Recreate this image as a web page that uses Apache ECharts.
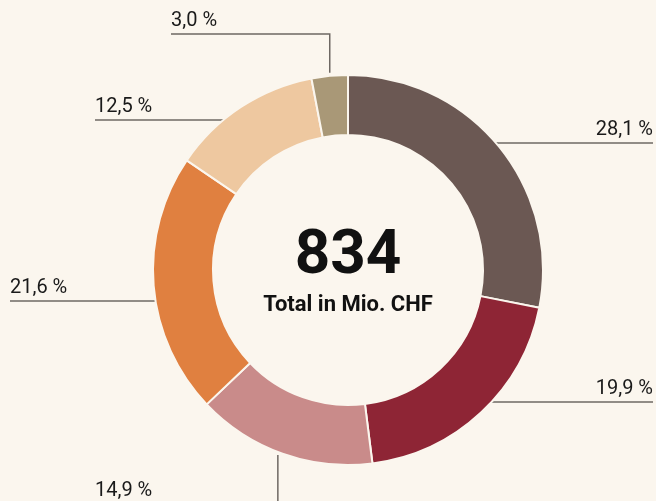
<!DOCTYPE html>
<html><head><meta charset="utf-8">
<script src="https://cdn.jsdelivr.net/npm/echarts@6/dist/echarts.min.js"></script>
<style>html,body{margin:0;padding:0;background:#fbf6ee}#c{width:656px;height:501px}</style>
</head><body><div id="c"></div>
<script>
// ---- data ----
const categories = ['A', 'B', 'C', 'D', 'E', 'F'];
const shares = [28.1, 19.9, 14.9, 21.6, 12.5, 3.0];
const labelTexts = ['28,1 %', '19,9 %', '14,9 %', '21,6 %', '12,5 %', '3,0 %'];
const totalValue = '834';
const totalCaption = 'Total in Mio. CHF';

// ---- styling / layout ----
const colors = ['#6b5853', '#8e2535', '#c98b8a', '#e08040', '#eec8a0', '#a99877'];
const BG = '#fbf6ee';
const CX = 348, CY = 270, R_OUT = 195, R_IN = 135;
// label placement: side and line y (for horizontal) / end x
const placement = [
  {side: 'right', lineY: 143, endX: 653},
  {side: 'right', lineY: 402, endX: 653},
  {side: 'down', lineY: 504, endX: 95, dx: -5},
  {side: 'left', lineY: 301, endX: 10},
  {side: 'left', lineY: 120, endX: 95},
  {side: 'up', lineY: 34, endX: 171, dx: 0}
];

const total = shares.reduce((a, b) => a + b, 0);
const midAngles = [];
{
  let acc = 0;
  shares.forEach(v => { midAngles.push((acc + v / 2) / total * 2 * Math.PI); acc += v; });
}
const R_EDGE = R_OUT - 1;

const chart = echarts.init(document.getElementById('c'), null, {renderer: 'canvas'});
chart.setOption({
  backgroundColor: BG,
  animation: false,
  graphic: [
    {type: 'text', x: CX, y: 257, style: {text: totalValue, fill: '#111', font: 'bold 62px Roboto', textAlign: 'center', textVerticalAlign: 'middle'}},
    {type: 'text', x: CX, y: 305, style: {text: totalCaption, fill: '#111', font: 'bold 22px Roboto', textAlign: 'center', textVerticalAlign: 'middle'}}
  ],
  series: [{
    type: 'pie',
    center: [CX, CY],
    radius: [R_IN, R_OUT],
    startAngle: 90,
    clockwise: true,
    avoidLabelOverlap: false,
    itemStyle: {borderColor: BG, borderWidth: 2},
    emphasis: {disabled: true},
    label: {
      show: true, position: 'outside',
      formatter: p => labelTexts[p.dataIndex],
      color: '#1a1a1a', fontFamily: 'Roboto', fontSize: 20
    },
    labelLine: {show: true, length: 10, length2: 10, lineStyle: {color: '#6e6863', width: 1.5}},
    labelLayout: function (params) {
      const i = params.dataIndex;
      const pl = placement[i];
      const a = midAngles[i];
      let pts, lx, ly, align;
      if (pl.side === 'right' || pl.side === 'left') {
        const dy = pl.lineY - CY;
        const dx = Math.sqrt(Math.max(0, R_EDGE * R_EDGE - dy * dy));
        const sx = pl.side === 'right' ? CX + dx : CX - dx;
        pts = [[sx, pl.lineY], [sx, pl.lineY], [pl.endX, pl.lineY]];
        lx = pl.endX; ly = pl.lineY - 3; align = pl.side === 'right' ? 'right' : 'left';
      } else {
        const ax = CX + R_EDGE * Math.sin(a) + (pl.dx || 0);
        const dx = ax - CX;
        const dy = Math.sqrt(Math.max(0, R_EDGE * R_EDGE - dx * dx)) + 4;
        const sy = pl.side === 'up' ? CY - dy : CY + dy;
        pts = [[ax, sy], [ax, pl.lineY], [pl.endX, pl.lineY]];
        lx = pl.endX; ly = pl.lineY - 3; align = 'left';
      }
      return {x: lx, y: ly, align: align, verticalAlign: 'bottom', labelLinePoints: pts};
    },
    data: categories.map((c, i) => ({name: c, value: shares[i], itemStyle: {color: colors[i]}}))
  }]
});
</script></body></html>
